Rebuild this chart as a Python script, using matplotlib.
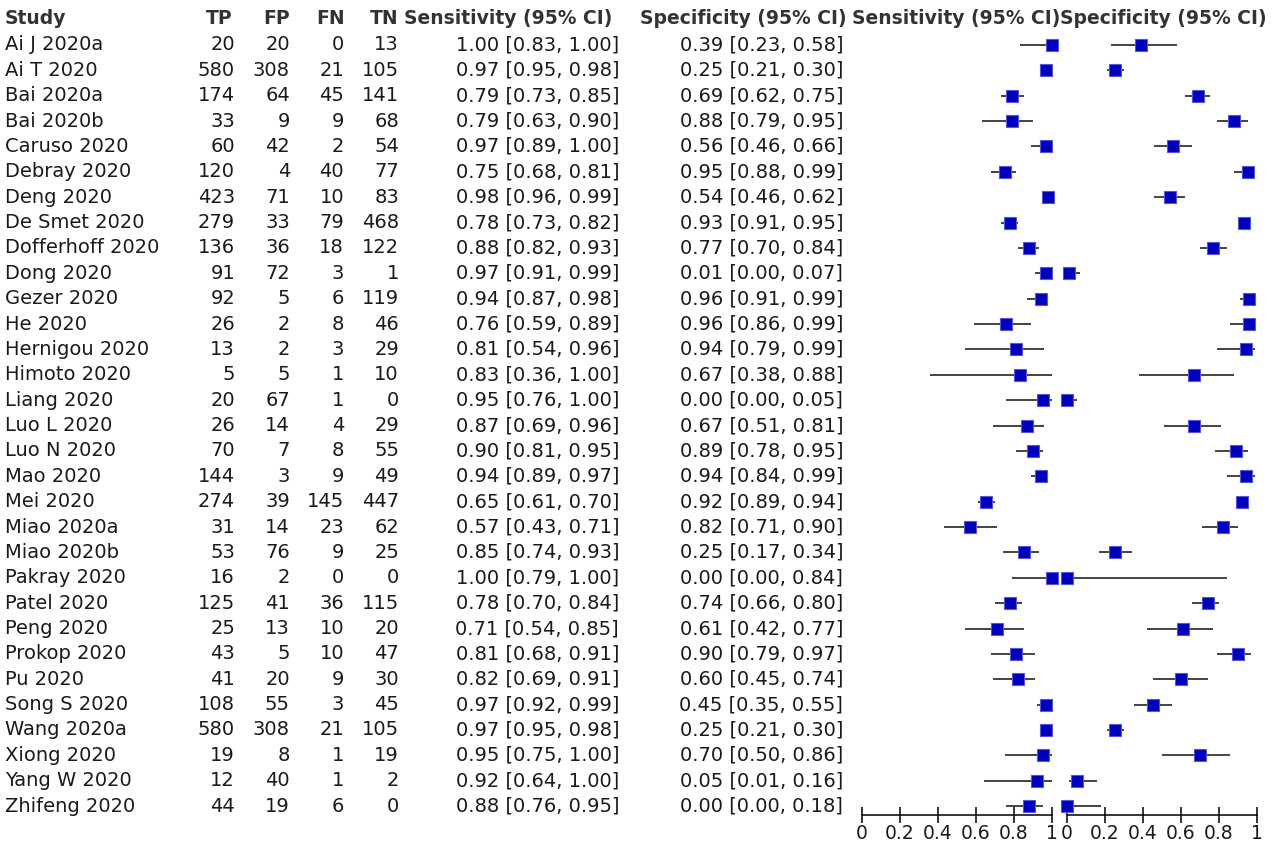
import matplotlib.pyplot as plt
import numpy as np

studies = ["Ai J 2020a", "Ai T 2020", "Bai 2020a", "Bai 2020b", "Caruso 2020", "Debray 2020",
           "Deng 2020", "De Smet 2020", "Dofferhoff 2020", "Dong 2020", "Gezer 2020", "He 2020",
           "Hernigou 2020", "Himoto 2020", "Liang 2020", "Luo L 2020", "Luo N 2020", "Mao 2020",
           "Mei 2020", "Miao 2020a", "Miao 2020b", "Pakray 2020", "Patel 2020", "Peng 2020",
           "Prokop 2020", "Pu 2020", "Song S 2020", "Wang 2020a", "Xiong 2020", "Yang W 2020",
           "Zhifeng 2020"]
tp = [20, 580, 174, 33, 60, 120, 423, 279, 136, 91, 92, 26, 13, 5, 20, 26, 70, 144, 274, 31, 53,
      16, 125, 25, 43, 41, 108, 580, 19, 12, 44]
fp = [20, 308, 64, 9, 42, 4, 71, 33, 36, 72, 5, 2, 2, 5, 67, 14, 7, 3, 39, 14, 76,
      2, 41, 13, 5, 20, 55, 308, 8, 40, 19]
fn = [0, 21, 45, 9, 2, 40, 10, 79, 18, 3, 6, 8, 3, 1, 1, 4, 8, 9, 145, 23, 9,
      0, 36, 10, 10, 9, 3, 21, 1, 1, 6]
tn = [13, 105, 141, 68, 54, 77, 83, 468, 122, 1, 119, 46, 29, 10, 0, 29, 55, 49, 447, 62, 25,
      0, 115, 20, 47, 30, 45, 105, 19, 2, 0]
sens = [1.00, 0.97, 0.79, 0.79, 0.97, 0.75, 0.98, 0.78, 0.88, 0.97, 0.94, 0.76, 0.81, 0.83, 0.95,
        0.87, 0.90, 0.94, 0.65, 0.57, 0.85, 1.00, 0.78, 0.71, 0.81, 0.82, 0.97, 0.97, 0.95, 0.92, 0.88]
sens_lo = [0.83, 0.95, 0.73, 0.63, 0.89, 0.68, 0.96, 0.73, 0.82, 0.91, 0.87, 0.59, 0.54, 0.36, 0.76,
           0.69, 0.81, 0.89, 0.61, 0.43, 0.74, 0.79, 0.70, 0.54, 0.68, 0.69, 0.92, 0.95, 0.75, 0.64, 0.76]
sens_hi = [1.00, 0.98, 0.85, 0.90, 1.00, 0.81, 0.99, 0.82, 0.93, 0.99, 0.98, 0.89, 0.96, 1.00, 1.00,
           0.96, 0.95, 0.97, 0.70, 0.71, 0.93, 1.00, 0.84, 0.85, 0.91, 0.91, 0.99, 0.98, 1.00, 1.00, 0.95]
spec = [0.39, 0.25, 0.69, 0.88, 0.56, 0.95, 0.54, 0.93, 0.77, 0.01, 0.96, 0.96, 0.94, 0.67, 0.00,
        0.67, 0.89, 0.94, 0.92, 0.82, 0.25, 0.00, 0.74, 0.61, 0.90, 0.60, 0.45, 0.25, 0.70, 0.05, 0.00]
spec_lo = [0.23, 0.21, 0.62, 0.79, 0.46, 0.88, 0.46, 0.91, 0.70, 0.00, 0.91, 0.86, 0.79, 0.38, 0.00,
           0.51, 0.78, 0.84, 0.89, 0.71, 0.17, 0.00, 0.66, 0.42, 0.79, 0.45, 0.35, 0.21, 0.50, 0.01, 0.00]
spec_hi = [0.58, 0.30, 0.75, 0.95, 0.66, 0.99, 0.62, 0.95, 0.84, 0.07, 0.99, 0.99, 0.99, 0.88, 0.05,
           0.81, 0.95, 0.99, 0.94, 0.90, 0.34, 0.84, 0.80, 0.77, 0.97, 0.74, 0.55, 0.30, 0.86, 0.16, 0.18]

W, H = 1277, 844
plt.rcParams['font.family'] = ['DejaVu Sans']
fig = plt.figure(figsize=(W / 100, H / 100), dpi=100)

# text layer in pixel coords
tax = fig.add_axes([0, 0, 1, 1])
tax.set_xlim(0, W)
tax.set_ylim(H, 0)
tax.axis('off')

row0, dy = 45, 25.37
fs = 14
txt = '#1a1a1a'
head_y = 18
hkw = dict(fontsize=13.5, fontweight='bold', color='#333333', va='center')
tax.text(5, head_y, 'Study', ha='left', **hkw)
tax.text(233, head_y, 'TP', ha='right', **hkw)
tax.text(290, head_y, 'FP', ha='right', **hkw)
tax.text(345, head_y, 'FN', ha='right', **hkw)
tax.text(398, head_y, 'TN', ha='right', **hkw)
tax.text(612, head_y, 'Sensitivity (95% CI)', ha='right', **hkw)
tax.text(847, head_y, 'Specificity (95% CI)', ha='right', **hkw)
tax.text(852, head_y, 'Sensitivity (95% CI)', ha='left', **hkw)
tax.text(1267, head_y, 'Specificity (95% CI)', ha='right', **hkw)

for i, s in enumerate(studies):
    y = row0 + i * dy
    kw = dict(fontsize=fs, color=txt, va='center')
    tax.text(5, y, s, ha='left', **kw)
    tax.text(235, y, str(tp[i]), ha='right', **kw)
    tax.text(290, y, str(fp[i]), ha='right', **kw)
    tax.text(344, y, str(fn[i]), ha='right', **kw)
    tax.text(399, y, str(tn[i]), ha='right', **kw)
    tax.text(619, y, f'{sens[i]:.2f} [{sens_lo[i]:.2f}, {sens_hi[i]:.2f}]', ha='right', **kw)
    tax.text(843, y, f'{spec[i]:.2f} [{spec_lo[i]:.2f}, {spec_hi[i]:.2f}]', ha='right', **kw)

# forest panels
axis_px = 815
ylim_bot = (axis_px - row0) / dy
ylim_top = (0 - row0) / dy
rows = np.arange(len(studies))


def forest(x0, est, lo, hi):
    ax = fig.add_axes([x0 / W, 1 - axis_px / H, 190 / W, axis_px / H])
    ax.patch.set_alpha(0)
    ax.set_xlim(0, 1)
    ax.set_ylim(ylim_bot, ylim_top)
    ax.hlines(rows, lo, hi, color='#111111', lw=1.1, clip_on=False)
    ax.plot(est, rows, 's', ms=8.8, mfc='#0000bb', mec='#5555dd', mew=0.8, ls='none',
            clip_on=False, zorder=3)
    for sp in ['top', 'left', 'right']:
        ax.spines[sp].set_visible(False)
    ax.spines['bottom'].set_linewidth(1.1)
    ax.set_yticks([])
    ax.set_xticks([0, 0.2, 0.4, 0.6, 0.8, 1.0])
    ax.set_xticklabels(['0', '0.2', '0.4', '0.6', '0.8', '1'])
    ax.tick_params(axis='x', direction='inout', length=11, width=1.1, labelsize=13.5,
                   pad=1, labelcolor=txt)
    return ax


forest(862, sens, sens_lo, sens_hi)
forest(1067, spec, spec_lo, spec_hi)

fig.savefig('out.png', dpi=100)
